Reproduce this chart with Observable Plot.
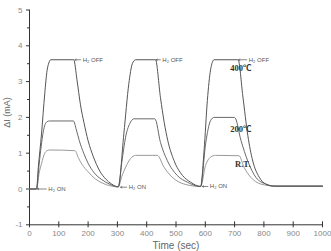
<!DOCTYPE html>
<html>
<head>
<meta charset="utf-8">
<script src="https://cdn.jsdelivr.net/npm/d3@7"></script>
<script src="https://cdn.jsdelivr.net/npm/@observablehq/plot@0.6"></script>
<style>
  html, body { margin: 0; padding: 0; background: #fff; }
</style>
</head>
<body>
<div id="chart"></div>
<script>
// ---- data ----
const t400 = [0, 24, 30, 41, 52, 60, 66, 72, 151, 162, 174, 186, 200, 218, 240, 260, 280, 303,
              322, 339, 351, 362, 430, 447, 460, 472, 493, 522, 550, 584,
              596, 607, 618, 630, 712, 728, 745, 762, 784, 806, 835, 1000];
const v400 = [0, 0, 0.6, 1.54, 2.66, 3.31, 3.52, 3.61, 3.61, 3.05, 2.35, 1.85, 1.35, 0.9, 0.5, 0.28, 0.14, 0.06,
              1.54, 2.94, 3.5, 3.61, 3.61, 2.55, 1.85, 1.35, 0.8, 0.38, 0.19, 0.07,
              1.09, 2.47, 3.33, 3.61, 3.61, 2.6, 1.5, 0.78, 0.33, 0.14, 0.08, 0.08];

const t200 = [0, 24, 33, 40, 47, 53, 60, 68, 150, 160, 170, 185, 200, 220, 247, 275, 303,
              315, 328, 345, 356, 428, 447, 470, 504, 539, 584,
              601, 618, 630, 700, 722, 745, 773, 806, 838, 1000];
const v200 = [0, 0, 0.7, 1.2, 1.6, 1.8, 1.88, 1.9, 1.9, 1.65, 1.35, 1.0, 0.72, 0.46, 0.26, 0.13, 0.06,
              0.75, 1.45, 1.87, 1.96, 1.96, 1.3, 0.8, 0.38, 0.19, 0.07,
              1.26, 1.91, 2.0, 2.0, 1.35, 0.78, 0.32, 0.14, 0.08, 0.08];

const tRT = [0, 24, 33, 41, 52, 60, 70, 155, 168, 180, 200, 225, 250, 275, 303,
             315, 328, 345, 362, 436, 459, 487, 527, 584,
             601, 618, 635, 715, 732, 755, 789, 840, 1000];
const vRT = [0, 0, 0.45, 0.71, 1.0, 1.07, 1.09, 1.07, 0.85, 0.68, 0.48, 0.28, 0.16, 0.09, 0.06,
             0.35, 0.61, 0.85, 0.94, 0.94, 0.61, 0.33, 0.14, 0.07,
             0.66, 0.89, 0.94, 0.93, 0.61, 0.33, 0.14, 0.08, 0.08];

// annotations
const offTip = [155, 432, 714];
const offText = [178, 450, 745];
const offV = [3.61, 3.61, 3.61];
const onTip = [27, 311, 590];
const onText = [61, 335, 612];
const onV = [0, 0.05, 0.07];

const seriesLabels = ["400℃", "200℃", "R.T."];
const seriesLabelT = [721, 721, 728];
const seriesLabelV = [3.37, 1.66, 0.68];

const xTicks = [0, 100, 200, 300, 400, 500, 600, 700, 800, 900, 1000];
const yTicks = [-1, 0, 1, 2, 3, 4, 5];
const yMinor = [-0.5, 0.5, 1.5, 2.5, 3.5, 4.5];

// ---- build rows ----
const zip = (ts, vs) => ts.map((t, i) => ({t, v: vs[i]}));
const d400 = zip(t400, v400);
const d200 = zip(t200, v200);
const dRT = zip(tRT, vRT);
const offRows = offTip.map((t, i) => ({tip: t, tx: offText[i], v: offV[i]}));
const onRows = onTip.map((t, i) => ({tip: t, tx: onText[i], v: onV[i]}));
const lblRows = seriesLabels.map((s, i) => ({s, t: seriesLabelT[i], v: seriesLabelV[i]}));

const axisColor = "#333";
const tickTextColor = "#888";

const chart = Plot.plot({
  width: 331,
  height: 251,
  marginLeft: 29,
  marginRight: 9,
  marginTop: 9.5,
  marginBottom: 26.7,
  x: {domain: [0, 1000], axis: null},
  y: {domain: [-1, 5], axis: null},
  style: {background: "white", fontFamily: "'Liberation Sans', Arial, sans-serif", overflow: "visible"},
  marks: [
    // axes lines
    Plot.ruleX([0], {y1: -1, y2: 5, stroke: axisColor, strokeWidth: 1}),
    Plot.ruleY([-1], {x1: 0, x2: 1000, stroke: axisColor, strokeWidth: 1}),
    // x ticks (crossing)
    Plot.ruleX(xTicks, {x: d => d, y1: -1, y2: -1, insetTop: -3, insetBottom: -3, stroke: axisColor}),
    // y ticks
    Plot.ruleY(yTicks, {y: d => d, x1: 0, x2: 0, insetLeft: -3, insetRight: 0, stroke: axisColor}),
    Plot.ruleY(yMinor, {y: d => d, x1: 0, x2: 0, insetLeft: -2, insetRight: 0, stroke: axisColor}),
    // tick labels
    Plot.text(xTicks, {x: d => d, y: -1, dy: 8.5, text: d => String(d), fontSize: 8, fill: tickTextColor}),
    Plot.text(yTicks, {x: 0, y: d => d, dx: -7, text: d => String(d), textAnchor: "end", fontSize: 8, fill: tickTextColor}),
    // axis titles
    Plot.text(["Time (sec)"], {x: 500, y: -1, dy: 20.5, text: d => d, fontSize: 10, fill: "#666"}),
    Plot.text(["ΔI (mA)"], {x: 0, y: 2, dx: -22, dy: -5, rotate: -90, text: d => d, fontSize: 9, fill: "#666"}),
    // curves
    Plot.line(dRT, {x: "t", y: "v", stroke: "#9a9a9a", strokeWidth: 1, curve: "monotone-x"}),
    Plot.line(d200, {x: "t", y: "v", stroke: "#6a6a6a", strokeWidth: 1, curve: "monotone-x"}),
    Plot.line(d400, {x: "t", y: "v", stroke: "#555", strokeWidth: 1, curve: "monotone-x"}),
    // H2 OFF annotations
    Plot.arrow(offRows, {x1: "tx", x2: "tip", y1: "v", y2: "v", stroke: "#555", strokeWidth: 0.7, headLength: 3, insetEnd: 0, insetStart: 1}),
    Plot.text(offRows, {x: "tx", y: "v", text: () => "H₂ OFF", textAnchor: "start", dx: 1, fontSize: 6, fill: "#555"}),
    // H2 ON annotations
    Plot.arrow(onRows, {x1: "tx", x2: "tip", y1: "v", y2: "v", stroke: "#555", strokeWidth: 0.7, headLength: 3, insetEnd: 0, insetStart: 1}),
    Plot.text(onRows, {x: "tx", y: "v", text: () => "H₂ ON", textAnchor: "start", dx: 1, fontSize: 6, fill: "#555"}),
    // series labels
    Plot.text(lblRows, {x: "t", y: "v", text: "s", fontSize: 8.5, fontWeight: "bold", fill: "#333",
      fontFamily: "'Liberation Serif', 'Noto Sans CJK SC', 'DejaVu Serif', serif"})
  ]
});
document.getElementById("chart").appendChild(chart);
</script>
</body>
</html>
